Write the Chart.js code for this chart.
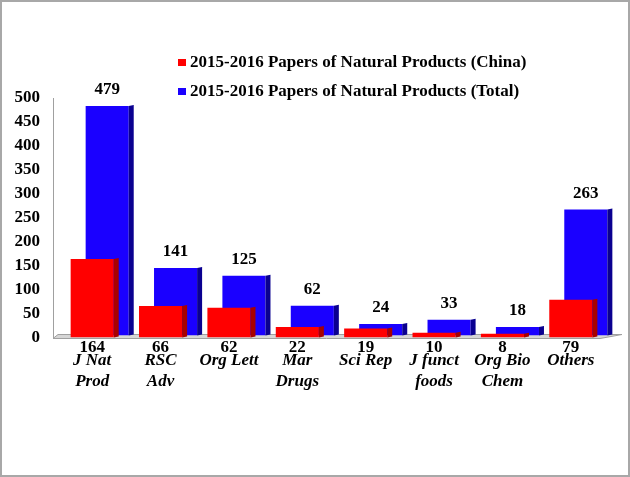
<!DOCTYPE html>
<html>
<head>
<meta charset="utf-8">
<script src="https://cdn.jsdelivr.net/npm/chart.js@4/dist/chart.umd.min.js"></script>
<style>
  html, body { margin: 0; padding: 0; background: #ffffff; }
  canvas { display: block; }
</style>
</head>
<body>
<canvas id="papers-chart" width="630" height="477"></canvas>
<script>
const categories = [
  ['J Nat', 'Prod'],
  ['RSC', 'Adv'],
  ['Org Lett'],
  ['Mar', 'Drugs'],
  ['Sci Rep'],
  ['J funct', 'foods'],
  ['Org Bio', 'Chem'],
  ['Others']
];
const chinaPapers = [164, 66, 62, 22, 19, 10, 8, 79];
const totalPapers = [479, 141, 125, 62, 24, 33, 18, 263];
const seriesLabels = [
  '2015-2016 Papers of Natural Products (China)',
  '2015-2016 Papers of Natural Products (Total)'
];
const yTickMin = 0;
const yTickMax = 500;
const yTickStep = 50;

const SERIF = "'Liberation Serif', 'Times New Roman', serif";
const FRONT_COLORS = ['#ff0000', '#1a00ff'];
const SIDE_COLORS = ['#a80000', '#0a0090'];
const BACK_SHIFT = { x: 15, y: -2 };
const DEPTH = { x: 5, y: -1 };
const WALL = 5;

Chart.defaults.font.family = SERIF;
Chart.defaults.font.weight = 'bold';
Chart.defaults.color = '#000000';

function barProps(chart, index) {
  return chart.getDatasetMeta(index).data.map((bar) => bar.getProps(['x', 'y', 'base', 'width'], true));
}

function drawSides(ctx, bars, color) {
  ctx.fillStyle = color;
  bars.forEach((bar) => {
    const right = bar.x + bar.width / 2;
    ctx.beginPath();
    ctx.moveTo(right, bar.y);
    ctx.lineTo(right + DEPTH.x, bar.y + DEPTH.y);
    ctx.lineTo(right + DEPTH.x, bar.base + DEPTH.y);
    ctx.lineTo(right, bar.base);
    ctx.closePath();
    ctx.fill();
  });
}

const threeDPlugin = {
  id: 'threeD',
  beforeDraw(chart) {
    const { ctx, width, height } = chart;
    ctx.save();
    ctx.fillStyle = '#ffffff';
    ctx.fillRect(0, 0, width, height);
    ctx.strokeStyle = '#a8a8a8';
    ctx.lineWidth = 2;
    ctx.strokeRect(1, 1, width - 2, height - 2);
    ctx.restore();
  },
  beforeDatasetsDraw(chart) {
    const { ctx, chartArea, scales } = chart;
    const base = scales.y.getPixelForValue(0);
    const top = scales.y.getPixelForValue(yTickMax);
    const left = chartArea.left - WALL;
    ctx.save();
    // back wall edge
    ctx.strokeStyle = '#a0a0a0';
    ctx.lineWidth = 1;
    ctx.beginPath();
    ctx.moveTo(left + 0.5, top);
    ctx.lineTo(left + 0.5, base + 1);
    ctx.stroke();
    // floor
    ctx.fillStyle = '#d6d6d6';
    ctx.beginPath();
    ctx.moveTo(left, base + 1);
    ctx.lineTo(chartArea.right - 5, base + 1);
    ctx.lineTo(chartArea.right + 17, base - 3);
    ctx.lineTo(left + 5, base - 3);
    ctx.closePath();
    ctx.fill();
    ctx.stroke();
    ctx.restore();
  },
  beforeDatasetDraw(chart, args) {
    chart.ctx.save();
    if (args.index === 1) {
      chart.ctx.translate(BACK_SHIFT.x, BACK_SHIFT.y);
    }
  },
  afterDatasetDraw(chart, args) {
    drawSides(chart.ctx, barProps(chart, args.index), SIDE_COLORS[args.index]);
    chart.ctx.restore();
  },
  afterDraw(chart) {
    const { ctx, scales } = chart;
    ctx.save();
    ctx.fillStyle = '#000000';
    ctx.font = `bold 17px ${SERIF}`;
    ctx.textAlign = 'center';
    ctx.textBaseline = 'middle';

    barProps(chart, 1).forEach((bar, i) => {
      ctx.fillText(String(totalPapers[i]), bar.x + BACK_SHIFT.x, bar.y + BACK_SHIFT.y - 16);
    });

    const base = scales.y.getPixelForValue(0);
    barProps(chart, 0).forEach((bar, i) => {
      ctx.fillText(String(chinaPapers[i]), bar.x, base + 10);
    });

    // legend
    ctx.font = `bold 17px ${SERIF}`;
    ctx.textAlign = 'left';
    const rows = [63, 92];
    chart.data.datasets.forEach((ds, i) => {
      ctx.fillStyle = ds.backgroundColor;
      ctx.fillRect(178, rows[i] - 4, 8, 7);
      ctx.fillStyle = '#000000';
      ctx.fillText(ds.label, 190, rows[i]);
    });
    ctx.restore();
  }
};

new Chart(document.getElementById('papers-chart'), {
  type: 'bar',
  data: {
    labels: categories,
    datasets: [
      {
        label: seriesLabels[0],
        data: chinaPapers,
        backgroundColor: FRONT_COLORS[0],
        categoryPercentage: 0.63,
        barPercentage: 1,
        grouped: false
      },
      {
        label: seriesLabels[1],
        data: totalPapers,
        backgroundColor: FRONT_COLORS[1],
        categoryPercentage: 0.63,
        barPercentage: 1,
        grouped: false
      }
    ]
  },
  options: {
    responsive: false,
    animation: false,
    layout: {
      padding: { top: 98, left: 0, right: 25, bottom: 73 }
    },
    plugins: {
      legend: { display: false },
      tooltip: { enabled: false }
    },
    scales: {
      x: {
        grid: { display: false, drawTicks: false },
        border: { display: false },
        ticks: {
          padding: 12,
          maxRotation: 0,
          autoSkip: false,
          font: { family: SERIF, size: 17, weight: 'bold', style: 'italic', lineHeight: 1.25 },
          color: '#000000'
        }
      },
      y: {
        min: yTickMin,
        max: yTickMax,
        grid: { display: false, drawTicks: false },
        border: { display: false },
        afterFit(scale) {
          scale.width = 58;
        },
        ticks: {
          stepSize: yTickStep,
          padding: 18,
          font: { family: SERIF, size: 17, weight: 'bold' },
          color: '#000000'
        }
      }
    }
  },
  plugins: [threeDPlugin]
});
</script>
</body>
</html>
